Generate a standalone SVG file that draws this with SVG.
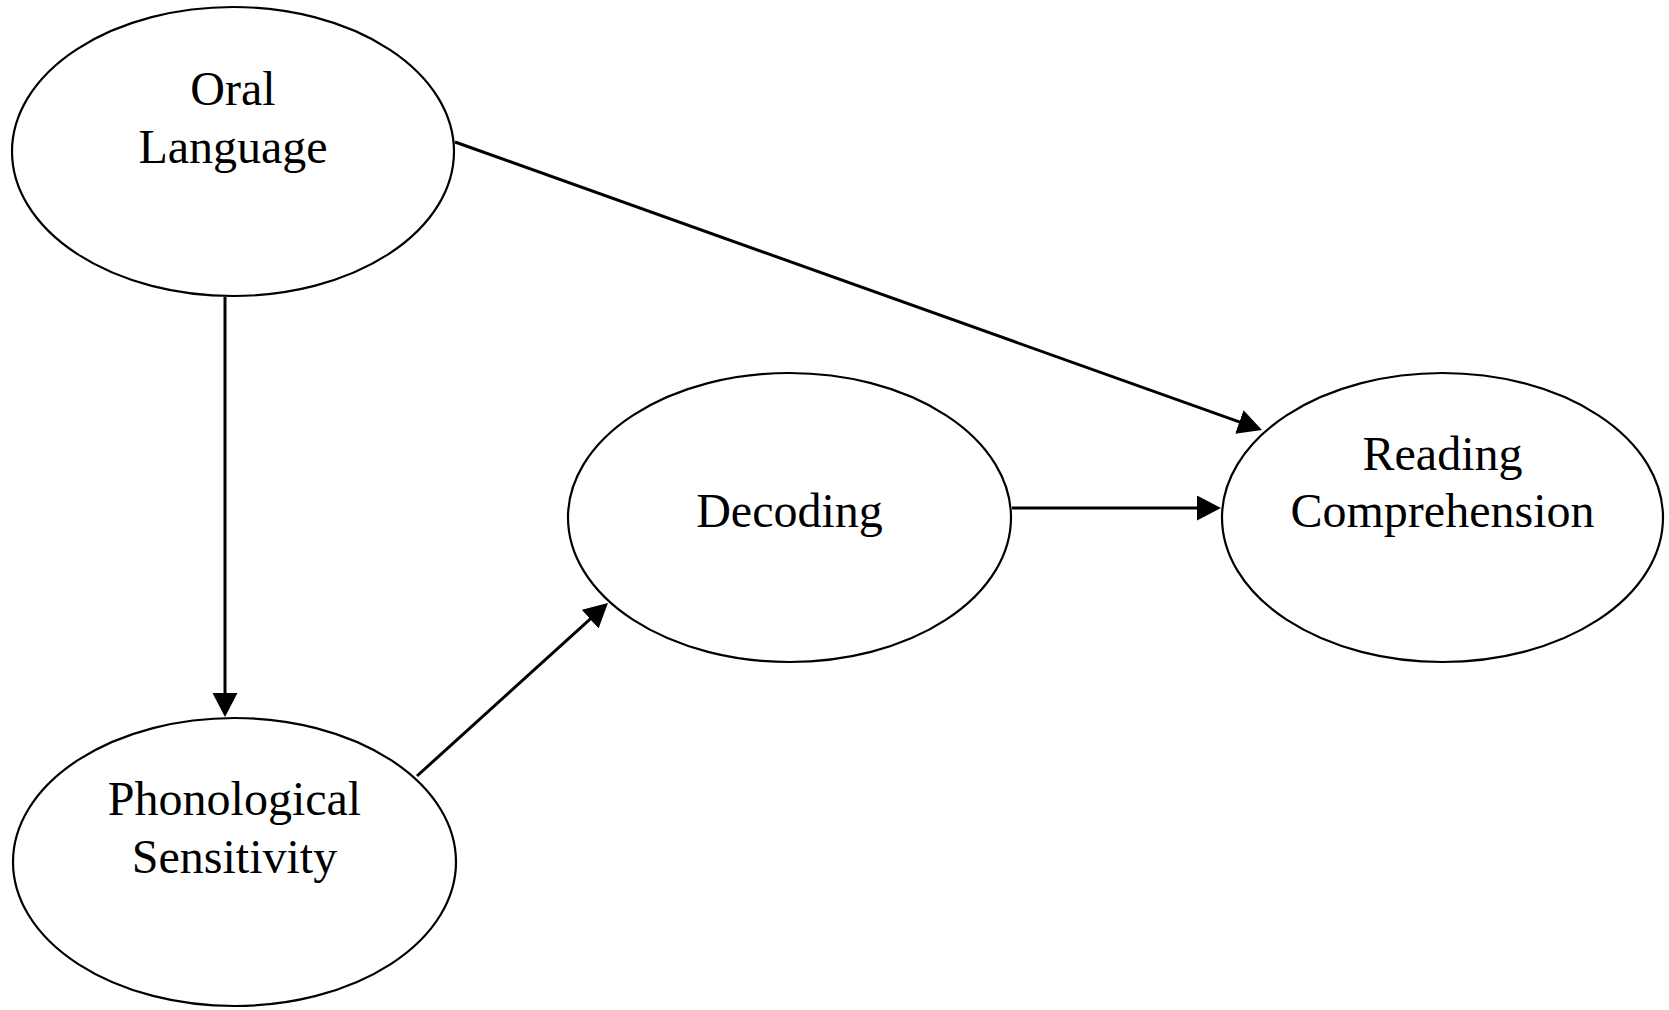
<svg xmlns="http://www.w3.org/2000/svg" width="1669" height="1010" viewBox="0 0 1669 1010">
<style>
.node ellipse{fill:#fff;stroke:#000;stroke-width:2.2}
.node text{font-family:"Liberation Serif","Times New Roman",serif;font-size:48px;fill:#000;text-anchor:middle}
.edge{stroke:#000;stroke-width:3;fill:none;marker-end:url(#arr)}
</style>
<defs>
<marker id="arr" markerUnits="userSpaceOnUse" markerWidth="24" markerHeight="26" refX="20" refY="12.5" orient="auto">
<path d="M0,0 L24,12.5 L0,25 Z" fill="#000"/>
</marker>
</defs>
<rect width="1669" height="1010" fill="#fff"/>
<g id="oral-language" class="node">
<ellipse cx="233" cy="151.5" rx="221" ry="144.5"/>
<text x="233" y="105">Oral</text>
<text x="233" y="163">Language</text>
</g>
<g id="phonological-sensitivity" class="node">
<ellipse cx="234.5" cy="862" rx="221.5" ry="144"/>
<text x="234.5" y="815">Phonological</text>
<text x="234.5" y="873">Sensitivity</text>
</g>
<g id="decoding" class="node">
<ellipse cx="789.5" cy="517.5" rx="221.5" ry="144.5"/>
<text x="789.5" y="527">Decoding</text>
</g>
<g id="reading-comprehension" class="node">
<ellipse cx="1442.5" cy="517.5" rx="220.5" ry="144.5"/>
<text x="1442.5" y="470">Reading</text>
<text x="1442.5" y="527">Comprehension</text>
</g>
<g id="connectors">
<line class="edge" x1="455" y1="142" x2="1258.2" y2="428.7"/>
<line class="edge" x1="225" y1="297" x2="225" y2="713"/>
<line class="edge" x1="417" y1="776" x2="605" y2="605.7"/>
<line class="edge" x1="1012" y1="508" x2="1217" y2="508"/>
</g>
</svg>
